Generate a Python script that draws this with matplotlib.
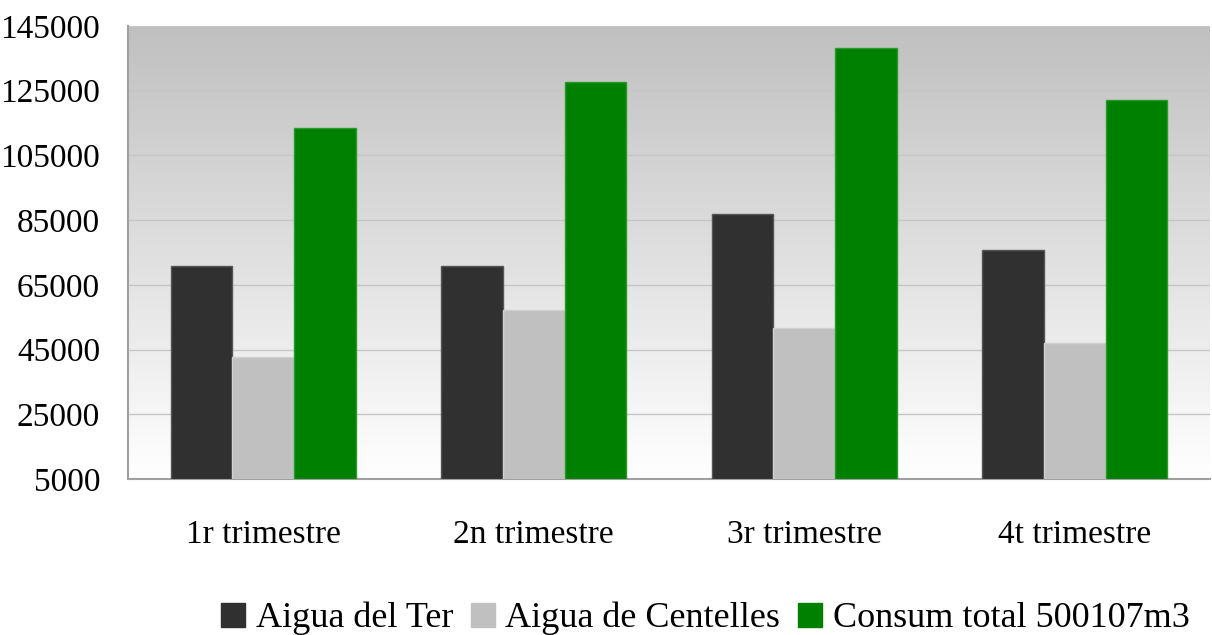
import numpy as np
import matplotlib.pyplot as plt
from matplotlib.patches import Patch

# === Data ===
categories = ['1r trimestre', '2n trimestre', '3r trimestre', '4t trimestre']
aigua_ter = [70900, 70800, 86900, 75800]
aigua_centelles = [42800, 57200, 51700, 47000]
consum_total = [113400, 127700, 138100, 122100]
series_names = ['Aigua del Ter', 'Aigua de Centelles', 'Consum total 500107m3']
colors = ['#303030', '#c0c0c0', '#008000']
edge_colors = ['#555555', '#d0d0d0', '#2a9a2a']
yticks = [5000, 25000, 45000, 65000, 85000, 105000, 125000, 145000]

plt.rcParams['font.family'] = ['Liberation Serif', 'DejaVu Serif']

fig = plt.figure(figsize=(12.12, 6.35), dpi=100)
ax = fig.add_axes([128 / 1212, 1 - 479 / 635, 1082 / 1212, 453 / 635])

# gradient background: grey at top, white at bottom
grad = np.linspace(0, 1, 256).reshape(-1, 1)
ax.imshow(grad, extent=[0, 1, 0, 1], transform=ax.transAxes, aspect='auto',
          cmap=plt.matplotlib.colors.LinearSegmentedColormap.from_list('bg', ['#c0c0c0', '#ffffff']),
          origin='upper', zorder=0)

x = np.arange(len(categories))
w = 0.228
for i, (vals, c, ec) in enumerate(zip([aigua_ter, aigua_centelles, consum_total], colors, edge_colors)):
    ax.bar(x + (i - 1) * w, np.array(vals) - 5000, width=w, bottom=5000,
           color=c, edgecolor=ec, linewidth=1, zorder=3)

ax.set_xlim(-0.5, len(categories) - 0.5)
ax.set_ylim(5000, 145000)
ax.set_yticks(yticks)
ax.set_yticklabels([str(v) for v in yticks], fontsize=24)
ax.set_xticks(x)
ax.set_xticklabels(categories, fontsize=24)
ax.tick_params(axis='both', length=0)
ax.tick_params(axis='y', pad=20)
ax.tick_params(axis='x', pad=29)
ax.grid(axis='y', color='#c6c6c6', linewidth=1, zorder=1)
ax.set_axisbelow(True)

for side in ['top', 'right']:
    ax.spines[side].set_visible(False)
for side in ['left', 'bottom']:
    ax.spines[side].set_color('#a0a0a0')
    ax.spines[side].set_linewidth(1.5)

handles = [Patch(facecolor=c, edgecolor=c) for c in colors]
fig.legend(handles, series_names, loc='center', bbox_to_anchor=(0.582, 0.026),
           ncol=3, frameon=False, fontsize=26, handlelength=0.65, handleheight=0.65,
           handletextpad=0.3, columnspacing=0.5)

fig.savefig('out.png', dpi=100)
